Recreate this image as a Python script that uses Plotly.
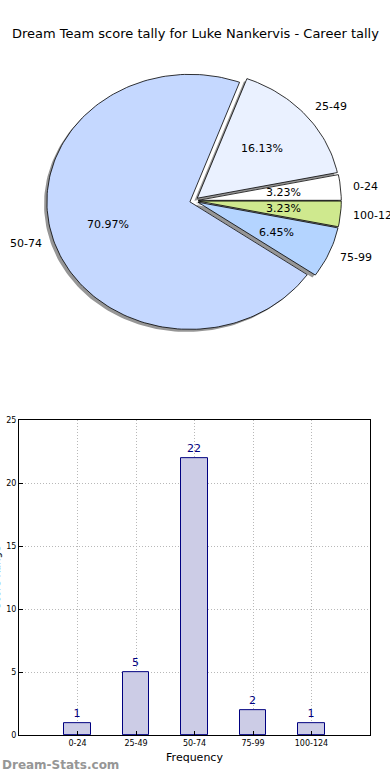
import math
import plotly.graph_objects as go

# ---- data ----
categories = ["0-24", "25-49", "50-74", "75-99", "100-124"]
counts = [1, 5, 22, 2, 1]
pie_colors = ["#ffffff", "#eaf1ff", "#c5d8ff", "#b4d4ff", "#cfe98e"]
title_text = "Dream Team score tally for Luke Nankervis - Career tally"
x_title = "Frequency"
y_title = "Score Range"
y_ticks = [0, 5, 10, 15, 20, 25]

W, H = 390, 780
FONT = "DejaVu Sans"
explode = 0.03
shadow_off = (-0.02, -0.02)

fig = go.Figure()

total = sum(counts)
fracs = [c / total for c in counts]

# pie wedges (elliptical, as drawn on non-equal axes)
wedges = []
start = 0.0
for lab, f in zip(categories, fracs):
    t1 = start
    t2 = start + 360.0 * f
    mid = math.radians((t1 + t2) / 2)
    cx = explode * math.cos(mid)
    cy = explode * math.sin(mid)
    n = max(4, int((t2 - t1) / 1.5))
    xs = [cx]
    ys = [cy]
    for k in range(n + 1):
        a = math.radians(t1 + (t2 - t1) * k / n)
        xs.append(cx + math.cos(a))
        ys.append(cy + math.sin(a))
    xs.append(cx)
    ys.append(cy)
    wedges.append((lab, f, xs, ys, mid, cx, cy))
    start = t2

for lab, f, xs, ys, mid, cx, cy in wedges:
    fig.add_trace(go.Scatter(
        x=[v + shadow_off[0] for v in xs], y=[v + shadow_off[1] for v in ys],
        mode="lines", fill="toself", fillcolor="rgb(150,150,150)",
        line=dict(width=0, color="rgb(150,150,150)"),
        xaxis="x2", yaxis="y2", hoverinfo="skip", showlegend=False))

for (lab, f, xs, ys, mid, cx, cy), col in zip(wedges, pie_colors):
    fig.add_trace(go.Scatter(
        x=xs, y=ys, mode="lines", fill="toself", fillcolor=col,
        line=dict(width=0.8, color="black"),
        xaxis="x2", yaxis="y2", hoverinfo="skip", showlegend=False))

annotations = []
for lab, f, xs, ys, mid, cx, cy in wedges:
    lx = cx + 1.1 * math.cos(mid)
    ly = cy + 1.1 * math.sin(mid)
    left = lx > 0
    annotations.append(dict(
        x=lx, y=ly, xref="x2", yref="y2", text=lab, showarrow=False,
        xanchor="left" if left else "right", yanchor="middle",
        xshift=-3 if left else 3, borderpad=0,
        font=dict(family=FONT, size=11, color="black")))
    px = cx + 0.6 * math.cos(mid)
    py = cy + 0.6 * math.sin(mid)
    annotations.append(dict(
        x=px, y=py, xref="x2", yref="y2", text="%.2f%%" % (f * 100),
        showarrow=False, xanchor="center", yanchor="middle", borderpad=0,
        font=dict(family=FONT, size=11, color="black")))

# bar chart
xidx = list(range(len(categories)))
fig.add_trace(go.Bar(
    x=xidx, y=counts, width=0.45,
    marker=dict(color="rgb(204,204,230)", line=dict(color="#000080", width=1)),
    text=[str(c) for c in counts], textposition="outside",
    textfont=dict(family=FONT, size=11, color="#000080"),
    cliponaxis=False, showlegend=False, hoverinfo="skip"))

# pie axes geometry (pixels -> data units)
rx, ry = 143.0, 129.0
pcx, pcy = 194.0, 199.0
top_px, bot_px = 40.0, 360.0

annotations.append(dict(
    x=0.5, y=1 - 30 / H, xref="paper", yref="paper", text=title_text,
    showarrow=False, xanchor="center", yanchor="middle",
    font=dict(family=FONT, size=13, color="black")))
annotations.append(dict(
    x=0, y=1 - 770 / H, xref="paper", yref="paper", text="<b>Dream-Stats.com</b>",
    showarrow=False, xanchor="left", yanchor="middle",
    font=dict(family=FONT, size=12, color="rgb(150,150,150)")))
annotations.append(dict(
    x=4 / W, y=1 - 580 / H, xref="paper", yref="paper", text=y_title,
    showarrow=False, xanchor="right", yanchor="middle", textangle=-90,
    font=dict(family=FONT, size=10, color="black")))

grid_kw = dict(showgrid=True, gridcolor="#b8b8b8", griddash="1px,2px", gridwidth=1)

fig.update_layout(
    width=W, height=H, autosize=False,
    margin=dict(l=0, r=0, t=0, b=0),
    paper_bgcolor="white", plot_bgcolor="white",
    bargap=0,
    xaxis=dict(
        domain=[19 / W, 370 / W], range=[-1, 5],
        tickvals=xidx, ticktext=categories,
        showline=True, linecolor="black", linewidth=1, mirror=True,
        ticks="inside", ticklen=4, tickcolor="black",
        tickfont=dict(family=FONT, size=8, color="black"),
        zeroline=False,
        title=dict(text=x_title, font=dict(family=FONT, size=11, color="black"), standoff=6),
        fixedrange=True, **grid_kw),
    yaxis=dict(
        domain=[1 - 740 / H, 1 - 421 / H], range=[0, 25],
        tickvals=y_ticks,
        showline=True, linecolor="black", linewidth=1, mirror=True,
        ticks="inside", ticklen=4, tickcolor="black",
        tickfont=dict(family=FONT, size=8, color="black"),
        zeroline=False, fixedrange=True, **grid_kw),
    xaxis2=dict(
        domain=[0, 1], range=[-pcx / rx, (W - pcx) / rx],
        visible=False, fixedrange=True),
    yaxis2=dict(
        domain=[1 - bot_px / H, 1 - top_px / H],
        range=[-(bot_px - pcy) / ry, (pcy - top_px) / ry],
        visible=False, fixedrange=True),
    annotations=annotations,
)

fig.write_html(
    "out.html",
    config={"displayModeBar": False},
    post_script="document.body.style.margin='0';document.body.style.overflow='hidden';",
)
